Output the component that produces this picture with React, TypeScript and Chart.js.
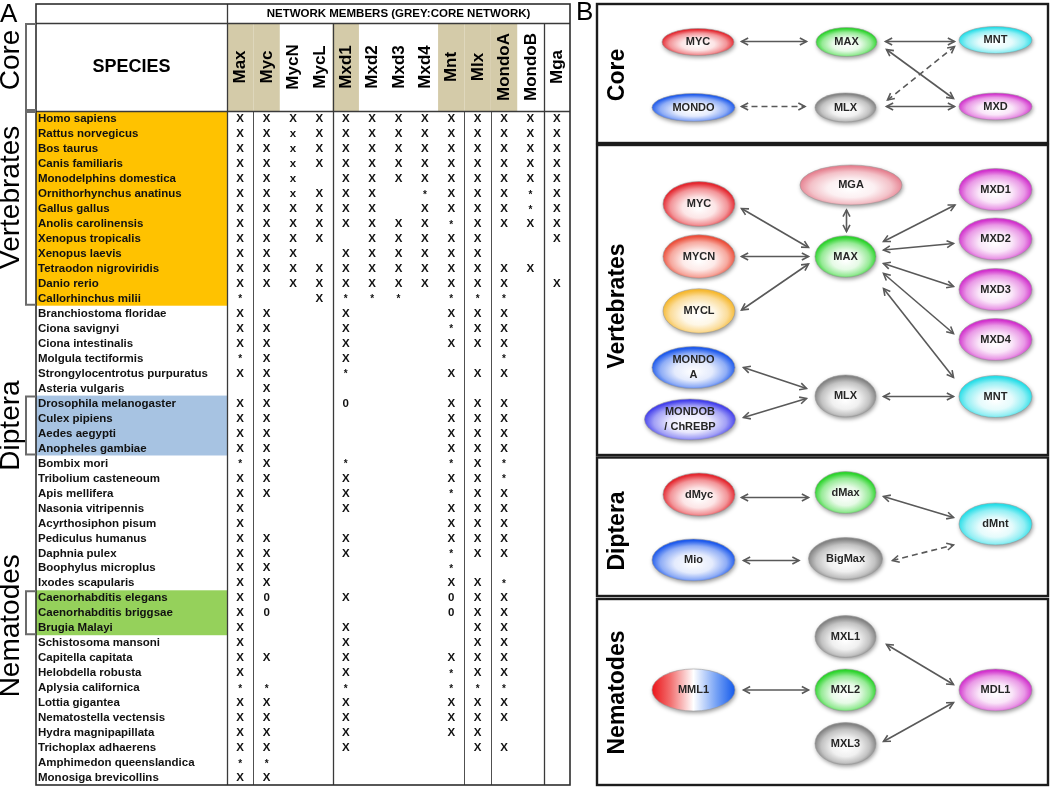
import React, { useEffect, useRef } from "react";
import { Chart, registerables } from "chart.js";

Chart.register(...registerables);

// ---------------- Panel A data ----------------
const MEMBERS = ["Max", "Myc", "MycN", "MycL", "Mxd1", "Mxd2", "Mxd3", "Mxd4", "Mnt", "Mlx", "MondoA", "MondoB", "Mga"];
const CORE_NETWORK = ["Max", "Myc", "Mxd1", "Mnt", "Mlx", "MondoA"];
const SPECIES = [
  "Homo sapiens", "Rattus norvegicus", "Bos taurus", "Canis familiaris", "Monodelphins domestica",
  "Ornithorhynchus anatinus", "Gallus gallus", "Anolis carolinensis", "Xenopus tropicalis", "Xenopus laevis",
  "Tetraodon nigroviridis", "Danio rerio", "Callorhinchus milii", "Branchiostoma floridae", "Ciona savignyi",
  "Ciona intestinalis", "Molgula tectiformis", "Strongylocentrotus purpuratus", "Asteria vulgaris",
  "Drosophila melanogaster", "Culex pipiens", "Aedes aegypti", "Anopheles gambiae", "Bombix mori",
  "Tribolium casteneoum", "Apis mellifera", "Nasonia vitripennis", "Acyrthosiphon pisum", "Pediculus humanus",
  "Daphnia pulex", "Boophylus microplus", "Ixodes scapularis", "Caenorhabditis elegans", "Caenorhabditis briggsae",
  "Brugia Malayi", "Schistosoma mansoni", "Capitella capitata", "Helobdella robusta", "Aplysia californica",
  "Lottia gigantea", "Nematostella vectensis", "Hydra magnipapillata", "Trichoplax adhaerens",
  "Amphimedon queenslandica", "Monosiga brevicollins",
];
// one string per species, one character per member column ("." = absent)
const PRESENCE = [
  "XXXXXXXXXXXXX", "XXxXXXXXXXXXX", "XXxXXXXXXXXXX", "XXxXXXXXXXXXX", "XXx.XXXXXXXXX",
  "XXxXXX.*XXX*X", "XXXXXX.XXXX*X", "XXXXXXXX*XXXX", "XXXX.XXXXX..X", "XXX.XXXXXX...",
  "XXXXXXXXXXXX.", "XXXXXXXXXXX.X", "*..X***.***..", "XX..X...XXX..", "XX..X...*XX..",
  "XX..X...XXX..", "*X..X.....*..", "XX..*...XXX..", ".X...........",
  "XX..0...XXX..", "XX......XXX..", "XX......XXX..", "XX......XXX..", "*X..*...*X*..",
  "XX..X...XX*..", "XX..X...*XX..", "X...X...XXX..", "X.......XXX..", "XX..X...XXX..",
  "XX..X...*XX..", "XX......*....", "XX......XX*..", "X0..X...0XX..", "X0......0XX..",
  "X...X....XX..", "X...X....XX..", "XX..X...XXX..", "X...X...*XX..", "**..*...***..",
  "XX..X...XXX..", "XX..X...XXX..", "XX..X...XX...", "XX..X....XX..",
  "**...........", "XX...........",
];
const SPECIES_GROUPS = ["Vertebrates", "Diptera", "Nematodes"];
const GROUP_FIRST = ["Homo sapiens", "Drosophila melanogaster", "Caenorhabditis elegans"];
const GROUP_LAST = ["Callorhinchus milii", "Anopheles gambiae", "Brugia Malayi"];
const BREAKS_FULL = ["MycL", "MondoB"];
const BREAKS_BODY = ["Max", "Mnt", "Mlx"];

// ---------------- Panel B data ----------------
const PANEL_NAMES = ["Core", "Vertebrates", "Diptera", "Nematodes"];
const NODE_LABELS = [
  "MYC", "MAX", "MNT", "MONDO", "MLX", "MXD",
  "MGA", "MYC", "MYCN", "MYCL", "MONDO\nA", "MONDOB\n/ ChREBP", "MAX", "MLX", "MXD1", "MXD2", "MXD3", "MXD4", "MNT",
  "dMyc", "dMax", "dMnt", "Mio", "BigMax",
  "MML1", "MXL1", "MXL2", "MXL3", "MDL1",
];
// diagram units (1 unit = 5 px)
const NODE_X = [
  24.6, 54.3, 84.1, 23.7, 54.1, 84.1,
  55.2, 24.8, 24.8, 24.8, 23.7, 23.0, 54.1, 54.1, 84.1, 84.1, 84.1, 84.1, 84.1,
  24.8, 54.1, 84.1, 23.7, 54.1,
  23.7, 54.1, 54.1, 54.1, 84.1,
];
const NODE_Y = [
  8.4, 8.4, 8.0, 21.5, 21.5, 21.3,
  37.0, 40.8, 51.3, 62.2, 73.5, 83.9, 51.3, 79.2, 37.9, 47.8, 57.9, 67.9, 79.3,
  98.9, 98.5, 104.8, 112.0, 111.7,
  138.0, 127.3, 138.0, 148.7, 138.0,
];
const NODE_RX = [
  7.2, 6.1, 7.3, 8.3, 6.1, 7.3,
  10.2, 7.2, 7.2, 7.2, 8.3, 9.1, 6.1, 6.1, 7.3, 7.3, 7.3, 7.3, 7.3,
  7.2, 6.1, 7.3, 8.3, 7.4,
  8.3, 6.1, 6.1, 6.1, 7.3,
];
const NODE_RY = [
  2.7, 2.9, 2.7, 2.8, 2.9, 2.7,
  4.0, 4.5, 4.35, 4.45, 4.2, 4.1, 4.15, 4.2, 4.2, 4.2, 4.2, 4.2, 4.2,
  4.3, 4.2, 4.2, 4.2, 4.2,
  4.2, 4.2, 4.2, 4.2, 4.2,
];
const EDGE_PATHS = [
  [33.3, 8.3, 46.3, 8.3], [62.1, 8.3, 75.9, 8.3], [62.3, 9.9, 75.7, 19.7], [62.5, 20.0, 75.9, 9.3],
  [33.3, 21.3, 46.0, 21.3], [62.3, 21.3, 75.9, 21.3],
  [33.3, 41.7, 46.7, 49.5], [33.3, 51.3, 46.7, 51.3], [33.3, 62.0, 46.7, 52.8], [54.3, 42.0, 54.3, 46.3],
  [61.7, 48.3, 76.0, 41.0], [61.7, 50.0, 75.7, 48.7], [61.7, 52.7, 75.7, 57.3], [61.7, 54.7, 75.7, 66.7],
  [61.7, 57.7, 75.7, 75.5], [33.7, 73.5, 46.3, 77.7], [33.7, 83.5, 46.3, 79.7], [61.7, 79.3, 75.7, 79.3],
  [33.3, 99.5, 46.7, 99.5], [61.7, 99.3, 75.7, 103.5], [33.7, 112.1, 44.8, 112.1], [63.5, 112.1, 75.7, 109.0],
  [33.7, 138.0, 46.7, 138.0], [62.3, 128.9, 75.7, 136.9], [61.7, 148.3, 75.7, 140.5],
];
const EDGE_DASHED = [
  false, false, false, true, true, false,
  false, false, false, false, false, false, false, false, false, false, false, false,
  false, false, false, true,
  false, false, false,
];
const BOX_LEFT = 4.4;
const BOX_RIGHT = 94.6;
const BOX_TOP = [0.8, 29.0, 91.5, 119.8];
const BOX_BOTTOM = [28.6, 91.0, 119.2, 157.0];
const LABEL_X = 8.5;
const LABEL_Y = [15.0, 61.2, 106.2, 138.5];

// ---------------- styles ----------------
const FONT = '"Liberation Sans", Arial, Helvetica, sans-serif';
const GROUP_COLORS = ["#ffc200", "#a7c3e2", "#95d15b"];
const HEADER_TAN = "#d4cba9";
const NODE_KIND = [
  "red", "green", "cyan", "blue", "gray", "magenta",
  "pink", "red", "salmon", "orange", "blue", "indigo", "green", "gray", "magenta", "magenta", "magenta", "magenta", "cyan",
  "red", "green", "cyan", "blue", "gray",
  "rwb", "gray", "green", "gray", "magenta",
];
const KIND_RGB: Record<string, number[]> = {
  red: [228, 40, 48],
  green: [45, 212, 45],
  cyan: [40, 222, 232],
  blue: [30, 90, 236],
  gray: [132, 132, 132],
  magenta: [210, 50, 205],
  pink: [230, 130, 145],
  salmon: [236, 80, 60],
  orange: [246, 185, 50],
  indigo: [68, 64, 236],
};

const tableData: { x: string; y: string; mark: string }[] = [];
SPECIES.forEach((sp, r) => {
  PRESENCE[r].split("").forEach((c, j) => {
    if (c !== ".") tableData.push({ x: MEMBERS[j], y: sp, mark: c });
  });
});

const TABLE_LEFT = 36;
const TABLE_TOP = 4;
const NET_ROW_BOTTOM = 23;
const BRACKET_X = 26;
const LEFT_LABEL_SHIFT = [-7, -11, 0, 13];

const tablePlugin = {
  id: "tableDecor",
  afterDraw(chart: any) {
    const { ctx, chartArea: ca } = chart;
    const xs = chart.scales.x;
    const ys = chart.scales.y;
    const colW = xs.getPixelForValue(1) - xs.getPixelForValue(0);
    const rowH = ys.getPixelForValue(1) - ys.getPixelForValue(0);
    const L = TABLE_LEFT, T = TABLE_TOP, NET = NET_ROW_BOTTOM;
    const headBot = ca.top, right = ca.right, bottom = ca.bottom, spRight = ca.left;
    const colX = (m: string) => xs.getPixelForValue(MEMBERS.indexOf(m));
    const rowY = (s: string) => ys.getPixelForValue(SPECIES.indexOf(s));
    ctx.save();

    // group fills
    const groupSpans: number[][] = [];
    SPECIES_GROUPS.forEach((g, i) => {
      const y0 = rowY(GROUP_FIRST[i]) - rowH / 2;
      const y1 = rowY(GROUP_LAST[i]) + rowH / 2;
      groupSpans.push([y0, y1]);
      ctx.fillStyle = GROUP_COLORS[i];
      ctx.fillRect(L, y0, spRight - L, y1 - y0);
    });
    // header shading
    ctx.fillStyle = HEADER_TAN;
    CORE_NETWORK.forEach((m) => {
      const cx = colX(m);
      ctx.fillRect(cx - colW / 2, NET, colW, headBot - NET);
    });

    // grid lines
    const vline = (x: number, y0: number, y1: number) => {
      ctx.beginPath(); ctx.moveTo(x, y0); ctx.lineTo(x, y1); ctx.stroke();
    };
    const hline = (y: number, x0: number, x1: number) => {
      ctx.beginPath(); ctx.moveTo(x0, y); ctx.lineTo(x1, y); ctx.stroke();
    };
    ctx.strokeStyle = "#505050";
    ctx.lineWidth = 1;
    BREAKS_BODY.forEach((m) => vline(Math.round(colX(m) + colW / 2) + 0.5, headBot, bottom));
    ctx.strokeStyle = "#3a3a3a";
    ctx.lineWidth = 1.3;
    BREAKS_FULL.forEach((m) => vline(Math.round(colX(m) + colW / 2) + 0.5, NET, bottom));
    vline(Math.round(spRight) + 0.5, T, bottom);
    hline(NET + 0.5, L, right);
    hline(Math.round(headBot) + 0.5, L, right);
    ctx.lineWidth = 1.6;
    ctx.strokeStyle = "#2e2e2e";
    ctx.strokeRect(L, T, right - L, bottom - T);

    // header texts
    ctx.fillStyle = "#000";
    ctx.textAlign = "center";
    ctx.textBaseline = "middle";
    ctx.font = `bold 11.5px ${FONT}`;
    ctx.fillText("NETWORK MEMBERS (GREY:CORE NETWORK)", (spRight + right) / 2, (T + NET) / 2 + 0.5);
    ctx.font = `bold 18px ${FONT}`;
    ctx.fillText("SPECIES", (L + spRight) / 2, (NET + headBot) / 2);
    ctx.font = `bold 17px ${FONT}`;
    MEMBERS.forEach((m) => {
      ctx.save();
      ctx.translate(colX(m) + 0.5, (NET + headBot) / 2);
      ctx.rotate(-Math.PI / 2);
      ctx.fillText(m, 0, 0);
      ctx.restore();
    });

    // species names
    ctx.textAlign = "left";
    ctx.font = `bold 11.5px ${FONT}`;
    ctx.fillStyle = "#111";
    SPECIES.forEach((s) => ctx.fillText(s, L + 2, rowY(s) + 0.5));

    // marks via dataset elements
    const meta = chart.getDatasetMeta(0);
    ctx.textAlign = "center";
    meta.data.forEach((el: any, i: number) => {
      const mk = tableData[i].mark;
      if (mk === "*") {
        ctx.font = `bold 10px ${FONT}`;
        ctx.fillText("*", el.x, el.y + 1.5);
      } else {
        ctx.font = `bold 11.5px ${FONT}`;
        ctx.fillText(mk, el.x, el.y + 0.5);
      }
    });

    // brackets
    ctx.strokeStyle = "#6b6b6b";
    ctx.lineWidth = 2;
    const spans = [[NET, headBot], ...groupSpans];
    spans.forEach(([y0, y1]) => {
      ctx.beginPath();
      ctx.moveTo(L, y0 + 1);
      ctx.lineTo(BRACKET_X, y0 + 1);
      ctx.lineTo(BRACKET_X, y1 - 1);
      ctx.lineTo(L, y1 - 1);
      ctx.stroke();
    });

    // left labels
    ctx.fillStyle = "#000";
    ctx.font = `28px ${FONT}`;
    ctx.textAlign = "center";
    ctx.textBaseline = "middle";
    PANEL_NAMES.forEach((name, i) => {
      const [y0, y1] = spans[i];
      ctx.save();
      ctx.translate(11, (y0 + y1) / 2 + LEFT_LABEL_SHIFT[i]);
      ctx.rotate(-Math.PI / 2);
      ctx.fillText(name, 0, 0);
      ctx.restore();
    });

    // panel letter
    ctx.textAlign = "left";
    ctx.textBaseline = "alphabetic";
    ctx.font = `26px ${FONT}`;
    ctx.fillText("A", 0, 22);
    ctx.restore();
  },
};

function drawHead(ctx: CanvasRenderingContext2D, x: number, y: number, ang: number) {
  const len = 7.5, spread = 0.48;
  ctx.beginPath();
  ctx.moveTo(x - len * Math.cos(ang - spread), y - len * Math.sin(ang - spread));
  ctx.lineTo(x, y);
  ctx.lineTo(x - len * Math.cos(ang + spread), y - len * Math.sin(ang + spread));
  ctx.stroke();
}

function mix(c: number[], t: number) {
  return `rgb(${Math.round(c[0] + (255 - c[0]) * t)},${Math.round(c[1] + (255 - c[1]) * t)},${Math.round(c[2] + (255 - c[2]) * t)})`;
}

const networkPlugin = {
  id: "networkDecor",
  beforeDatasetsDraw(chart: any) {
    const { ctx } = chart;
    const xs = chart.scales.x, ys = chart.scales.y;
    ctx.save();
    ctx.fillStyle = "#000";
    ctx.font = `26px ${FONT}`;
    ctx.textAlign = "left";
    ctx.textBaseline = "alphabetic";
    ctx.fillText("B", 1, 20);
    const x0 = xs.getPixelForValue(BOX_LEFT), x1 = xs.getPixelForValue(BOX_RIGHT);
    PANEL_NAMES.forEach((name, i) => {
      const y0 = ys.getPixelForValue(BOX_TOP[i]), y1 = ys.getPixelForValue(BOX_BOTTOM[i]);
      ctx.lineWidth = 2.4;
      ctx.strokeStyle = "#1c1c1c";
      ctx.strokeRect(x0, y0, x1 - x0, y1 - y0);
      ctx.save();
      ctx.translate(xs.getPixelForValue(LABEL_X), ys.getPixelForValue(LABEL_Y[i]));
      ctx.rotate(-Math.PI / 2);
      ctx.font = `bold 23px ${FONT}`;
      ctx.textAlign = "center";
      ctx.textBaseline = "middle";
      ctx.fillText(name, 0, 0);
      ctx.restore();
    });
    ctx.restore();
  },
  afterDatasetsDraw(chart: any) {
    const { ctx } = chart;
    const xs = chart.scales.x, ys = chart.scales.y;
    ctx.save();
    // arrow heads
    ctx.strokeStyle = "#595959";
    ctx.lineWidth = 1.6;
    ctx.setLineDash([]);
    EDGE_PATHS.forEach((_, i) => {
      const m = chart.getDatasetMeta(i);
      const a = m.data[0], b = m.data[1];
      const ang = Math.atan2(b.y - a.y, b.x - a.x);
      drawHead(ctx, b.x, b.y, ang);
      drawHead(ctx, a.x, a.y, ang + Math.PI);
    });
    // nodes
    const nm = chart.getDatasetMeta(EDGE_PATHS.length);
    nm.data.forEach((el: any, i: number) => {
      const cx = el.x, cy = el.y;
      const rx = Math.abs(xs.getPixelForValue(NODE_X[i] + NODE_RX[i]) - cx);
      const ry = Math.abs(ys.getPixelForValue(NODE_Y[i] + NODE_RY[i]) - cy);
      const kind = NODE_KIND[i];
      ctx.save();
      ctx.shadowColor = "rgba(0,0,0,0.4)";
      ctx.shadowBlur = 4;
      ctx.shadowOffsetX = 1;
      ctx.shadowOffsetY = 2;
      if (kind === "rwb") {
        const g = ctx.createLinearGradient(cx - rx, 0, cx + rx, 0);
        g.addColorStop(0, "rgb(235,20,25)");
        g.addColorStop(0.22, "rgb(242,110,110)");
        g.addColorStop(0.5, "rgb(255,255,255)");
        g.addColorStop(0.78, "rgb(115,160,245)");
        g.addColorStop(1, "rgb(20,90,235)");
        ctx.beginPath();
        ctx.ellipse(cx, cy, rx, ry, 0, 0, Math.PI * 2);
        ctx.fillStyle = g;
        ctx.fill();
      } else {
        const c = KIND_RGB[kind];
        ctx.translate(cx, cy);
        ctx.scale(rx / ry, 1);
        const g = ctx.createRadialGradient(0, ry * 0.22, 0, 0, ry * 0.1, ry * 1.02);
        g.addColorStop(0, "rgb(255,255,255)");
        g.addColorStop(0.45, mix(c, 0.88));
        g.addColorStop(0.78, mix(c, 0.5));
        g.addColorStop(1, mix(c, 0));
        ctx.beginPath();
        ctx.arc(0, 0, ry, 0, Math.PI * 2);
        ctx.fillStyle = g;
        ctx.fill();
      }
      ctx.restore();
      ctx.save();
      ctx.beginPath();
      ctx.ellipse(cx, cy, rx, ry, 0, 0, Math.PI * 2);
      ctx.strokeStyle = "rgba(150,150,150,0.7)";
      ctx.lineWidth = 0.8;
      ctx.stroke();
      ctx.fillStyle = "#262626";
      ctx.font = `bold 11px ${FONT}`;
      ctx.textAlign = "center";
      ctx.textBaseline = "middle";
      const lines = NODE_LABELS[i].split("\n");
      const lh = 15.5;
      lines.forEach((ln, k) => {
        ctx.fillText(ln, cx, cy + (k - (lines.length - 1) / 2) * lh);
      });
      ctx.restore();
    });
    ctx.restore();
  },
};

export default function App() {
  const refA = useRef<HTMLCanvasElement | null>(null);
  const refB = useRef<HTMLCanvasElement | null>(null);

  useEffect(() => {
    if (!refA.current || !refB.current) return;
    const chartA = new Chart(refA.current, {
      type: "scatter",
      data: {
        datasets: [
          { data: tableData as any, pointRadius: 0, pointHoverRadius: 0 },
        ],
      },
      options: {
        animation: false,
        responsive: false,
        devicePixelRatio: 1,
        events: [],
        layout: { padding: { left: 227, right: 5, top: 111, bottom: 2 } },
        scales: {
          x: { type: "category", labels: MEMBERS, offset: true, display: false },
          y: { type: "category", labels: SPECIES, offset: true, display: false },
        },
        plugins: { legend: { display: false }, tooltip: { enabled: false } },
      },
      plugins: [tablePlugin],
    } as any);

    const edgeSets = EDGE_PATHS.map((p, i) => ({
      data: [{ x: p[0], y: p[1] }, { x: p[2], y: p[3] }],
      showLine: true,
      borderColor: "#595959",
      borderWidth: 1.6,
      borderDash: EDGE_DASHED[i] ? [6, 4] : [],
      pointRadius: 0,
      pointHoverRadius: 0,
      fill: false,
    }));
    const nodeSet = {
      data: NODE_X.map((x, i) => ({ x, y: NODE_Y[i] })),
      pointRadius: 0,
      pointHoverRadius: 0,
      showLine: false,
    };
    const chartB = new Chart(refB.current, {
      type: "scatter",
      data: { datasets: [...edgeSets, nodeSet] },
      options: {
        animation: false,
        responsive: false,
        devicePixelRatio: 1,
        events: [],
        layout: { padding: 0 },
        scales: {
          x: { type: "linear", min: 0, max: 95, display: false },
          y: { type: "linear", min: 0, max: 157.4, reverse: true, display: false },
        },
        plugins: { legend: { display: false }, tooltip: { enabled: false } },
      },
      plugins: [networkPlugin],
    } as any);

    return () => {
      chartA.destroy();
      chartB.destroy();
    };
  }, []);

  return (
    <div style={{ position: "absolute", left: 0, top: 0, width: 1050, height: 787, background: "#fff", overflow: "hidden" }}>
      <canvas ref={refA} width={575} height={787} style={{ position: "absolute", left: 0, top: 0, width: 575, height: 787 }} />
      <canvas ref={refB} width={475} height={787} style={{ position: "absolute", left: 575, top: 0, width: 475, height: 787 }} />
    </div>
  );
}
